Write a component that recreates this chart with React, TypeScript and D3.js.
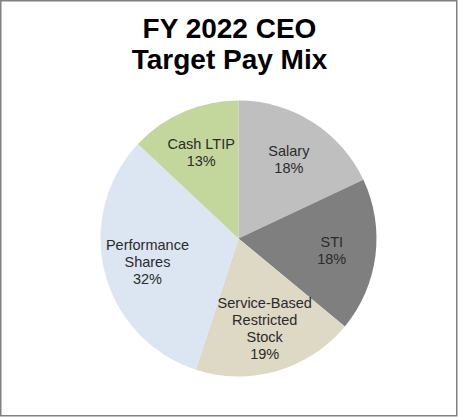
import React from "react";
import * as d3 from "d3";

const categories = ["Salary", "STI", "Service-Based Restricted Stock", "Performance Shares", "Cash LTIP"];
const labelLines = [["Salary"], ["STI"], ["Service-Based", "Restricted", "Stock"], ["Performance", "Shares"], ["Cash LTIP"]];
const values = [18, 18, 19, 32, 13];
const colors = ["#BFBFBF", "#7F7F7F", "#DDD9C4", "#DCE6F2", "#C3D69B"];
const titleLines = ["FY 2022 CEO", "Target Pay Mix"];

const W = 458;
const H = 417;
const CX = 238.5;
const CY = 238.5;
const R = 138;
const LABEL_R = 94;
const LINE_H = 17;

export default function App() {
  const data = categories.map((c, i) => ({ c, v: values[i], lines: labelLines[i], color: colors[i] }));
  const pie = d3.pie<any>().value((d) => d.v).sort(null).startAngle(0).endAngle(2 * Math.PI);
  const arcs = pie(data);
  const arc = d3.arc<any>().innerRadius(0).outerRadius(R);
  const labelArc = d3.arc<any>().innerRadius(LABEL_R).outerRadius(LABEL_R);

  return (
    <svg
      width={W}
      height={H}
      style={{ position: "absolute", left: 0, top: 0, fontFamily: "'Liberation Sans', Arial, sans-serif" }}
    >
      <rect x={0} y={0} width={W} height={H} fill="#ffffff" />
      <rect x={0.75} y={0.75} width={456} height={415} fill="none" stroke="#808080" strokeWidth={1.5} />
      {titleLines.map((t, i) => (
        <text key={t} x={229.5} y={38 + i * 31} textAnchor="middle" fontSize={28} fontWeight="bold" fill="#000">
          {t}
        </text>
      ))}
      <g transform={`translate(${CX},${CY})`}>
        {arcs.map((a, i) => (
          <path key={i} d={arc(a) as string} fill={a.data.color} />
        ))}
        {arcs.map((a, i) => {
          const [lx, ly] = labelArc.centroid(a);
          const lines = [...a.data.lines, `${a.data.v}%`];
          const y0 = ly - ((lines.length - 1) * LINE_H) / 2 + 5;
          return (
            <text key={"l" + i} x={lx} textAnchor="middle" fontSize={14.5} fill="#2b2b2b">
              {lines.map((ln, j) => (
                <tspan key={j} x={lx} y={y0 + j * LINE_H}>
                  {ln}
                </tspan>
              ))}
            </text>
          );
        })}
      </g>
    </svg>
  );
}
